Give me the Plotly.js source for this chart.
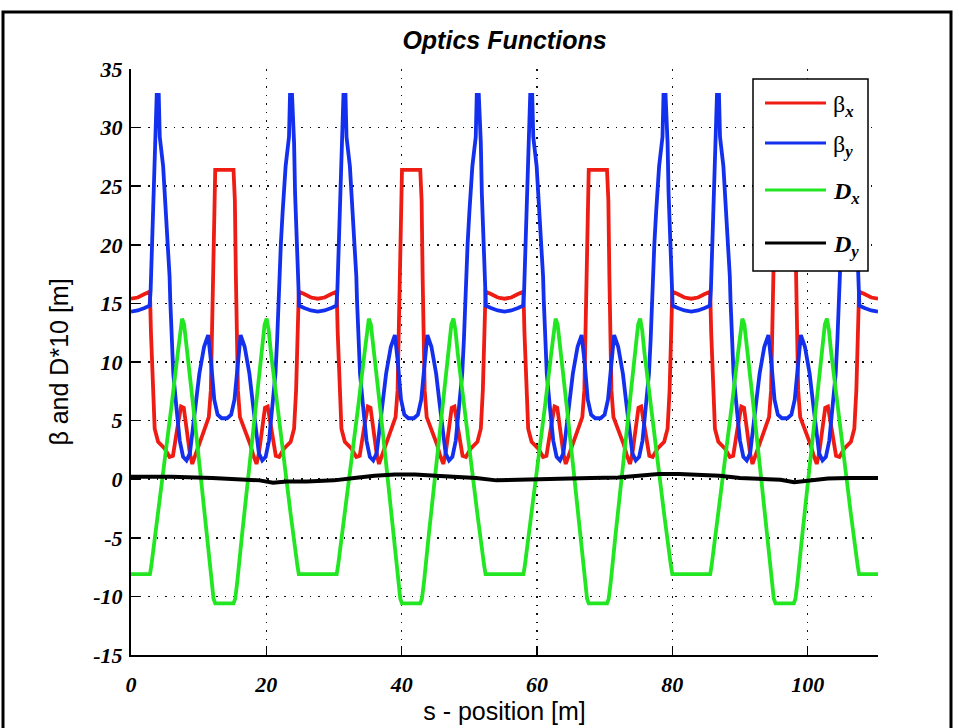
<!DOCTYPE html>
<html><head><meta charset="utf-8">
<script src="https://cdn.plot.ly/plotly-3.0.1.min.js"></script>
<style>html,body{margin:0;padding:0;background:#fff;} #chart{width:959px;height:728px;}</style>
</head><body><div id="chart"></div>
<script>
// ---- data ----
const seriesNames = ['β<sub>x</sub>', 'β<sub>y</sub>', 'D<sub>x</sub>', 'D<sub>y</sub>'];

const betaXS = [
0,1,2,2.8,2.95,3.2,3.5,4,5,5.7,6.2,6.8,7.4,7.8,8.3,8.7,9.05,9.5,10,10.7,11.5,11.8,11.95,12.1,12.25,12.45,
15.15,15.35,15.5,15.65,15.8,16.1,16.9,17.6,18.1,18.55,18.9,19.3,19.8,20.2,20.8,21.4,21.9,22.6,23.6,24.1,24.4,24.65,24.8,25.6,26.6,
27.6,28.6,29.6,30.4,30.55,30.8,31.1,31.6,32.6,33.3,33.8,34.4,35.0,35.4,35.9,36.3,36.65,37.1,37.6,38.3,39.1,39.4,39.55,39.7,39.85,40.05,
42.75,42.95,43.1,43.25,43.4,43.7,44.5,45.2,45.7,46.15,46.5,46.9,47.4,47.8,48.4,49.0,49.5,50.2,51.2,51.7,52.0,52.25,52.4,53.2,54.2,
55.2,56.2,57.2,58.0,58.15,58.4,58.7,59.2,60.2,60.9,61.4,62.0,62.6,63.0,63.5,63.9,64.25,64.7,65.2,65.9,66.7,67.0,67.15,67.3,67.45,67.65,
70.35,70.55,70.7,70.85,71.0,71.3,72.1,72.8,73.3,73.75,74.1,74.5,75.0,75.4,76.0,76.6,77.1,77.8,78.8,79.3,79.6,79.85,80.0,80.8,81.8,
82.8,83.8,84.8,85.6,85.75,86.0,86.3,86.8,87.8,88.5,89.0,89.6,90.2,90.6,91.1,91.5,91.85,92.3,92.8,93.5,94.3,94.6,94.75,94.9,95.05,95.25,
97.95,98.15,98.3,98.45,98.6,98.9,99.7,100.4,100.9,101.35,101.7,102.1,102.6,103.0,103.6,104.2,104.7,105.4,106.4,106.9,107.2,107.45,107.6,108.4,109.4,
110.4];
const betaXV = [
15.4,15.5,15.8,16.0,12.5,7.6,4.3,3.2,2.6,1.9,2.0,4.2,6.2,6.1,3.9,2.2,1.3,2.0,3.0,4.1,5.3,7.6,13.0,17.3,23.8,26.4,
26.4,23.8,17.3,13.0,7.6,5.3,4.1,3.0,2.0,1.3,2.2,3.9,6.1,6.2,4.2,2.0,1.9,2.6,3.2,4.3,7.6,12.5,16.0,15.8,15.5,
15.4,15.5,15.8,16.0,12.5,7.6,4.3,3.2,2.6,1.9,2.0,4.2,6.2,6.1,3.9,2.2,1.3,2.0,3.0,4.1,5.3,7.6,13.0,17.3,23.8,26.4,
26.4,23.8,17.3,13.0,7.6,5.3,4.1,3.0,2.0,1.3,2.2,3.9,6.1,6.2,4.2,2.0,1.9,2.6,3.2,4.3,7.6,12.5,16.0,15.8,15.5,
15.4,15.5,15.8,16.0,12.5,7.6,4.3,3.2,2.6,1.9,2.0,4.2,6.2,6.1,3.9,2.2,1.3,2.0,3.0,4.1,5.3,7.6,13.0,17.3,23.8,26.4,
26.4,23.8,17.3,13.0,7.6,5.3,4.1,3.0,2.0,1.3,2.2,3.9,6.1,6.2,4.2,2.0,1.9,2.6,3.2,4.3,7.6,12.5,16.0,15.8,15.5,
15.4,15.5,15.8,16.0,12.5,7.6,4.3,3.2,2.6,1.9,2.0,4.2,6.2,6.1,3.9,2.2,1.3,2.0,3.0,4.1,5.3,7.6,13.0,17.3,23.8,26.4,
26.4,23.8,17.3,13.0,7.6,5.3,4.1,3.0,2.0,1.3,2.2,3.9,6.1,6.2,4.2,2.0,1.9,2.6,3.2,4.3,7.6,12.5,16.0,15.8,15.5,
15.4];

const betaYS = [
0,1,2,2.75,2.9,3.1,3.35,3.5,3.8,4.1,4.25,4.75,5.2,5.45,5.7,5.8,6.0,6.25,6.7,7.2,7.7,8.2,8.7,9.1,9.6,10.1,10.8,11.4,11.85,12.3,12.8,13.4,
14.2,14.8,15.3,15.75,16.2,16.8,17.5,18.0,18.5,18.9,19.4,19.9,20.4,20.9,21.35,21.6,21.8,21.9,22.15,22.4,22.85,23.35,23.5,23.8,24.1,24.25,24.5,24.7,24.85,25.6,26.6,
27.6,28.6,29.6,30.35,30.5,30.7,30.95,31.1,31.4,31.7,31.85,32.35,32.8,33.05,33.3,33.4,33.6,33.85,34.3,34.8,35.3,35.8,36.3,36.7,37.2,37.7,38.4,39.0,39.45,39.9,40.4,41.0,
41.8,42.4,42.9,43.35,43.8,44.4,45.1,45.6,46.1,46.5,47.0,47.5,48.0,48.5,48.95,49.2,49.4,49.5,49.75,50.0,50.45,50.95,51.1,51.4,51.7,51.85,52.1,52.3,52.45,53.2,54.2,
55.2,56.2,57.2,57.95,58.1,58.3,58.55,58.7,59.0,59.3,59.45,59.95,60.4,60.65,60.9,61.0,61.2,61.45,61.9,62.4,62.9,63.4,63.9,64.3,64.8,65.3,66.0,66.6,67.05,67.5,68.0,68.6,
69.4,70.0,70.5,70.95,71.4,72.0,72.7,73.2,73.7,74.1,74.6,75.1,75.6,76.1,76.55,76.8,77.0,77.1,77.35,77.6,78.05,78.55,78.7,79.0,79.3,79.45,79.7,79.9,80.05,80.8,81.8,
82.8,83.8,84.8,85.55,85.7,85.9,86.15,86.3,86.6,86.9,87.05,87.55,88.0,88.25,88.5,88.6,88.8,89.05,89.5,90.0,90.5,91.0,91.5,91.9,92.4,92.9,93.6,94.2,94.65,95.1,95.6,96.2,
97.0,97.6,98.1,98.55,99.0,99.6,100.3,100.8,101.3,101.7,102.2,102.7,103.2,103.7,104.15,104.4,104.6,104.7,104.95,105.2,105.65,106.15,106.3,106.6,106.9,107.05,107.3,107.5,107.65,108.4,109.4,
110.4];
const betaYV = [
14.3,14.4,14.6,14.8,16.1,20.4,24.4,28.7,32.8,32.8,29.2,26.7,22.7,20.1,17.3,15.3,11.9,9.0,6.2,3.3,1.9,1.6,2.2,4.2,6.5,9.0,11.3,12.3,9.9,6.8,5.5,5.2,
5.2,5.5,6.8,9.9,12.3,11.3,9.0,6.5,4.2,2.2,1.6,1.9,3.3,6.2,9.0,11.9,15.3,17.3,20.1,22.7,26.7,29.2,32.8,32.8,28.7,24.4,20.4,16.1,14.8,14.6,14.4,
14.3,14.4,14.6,14.8,16.1,20.4,24.4,28.7,32.8,32.8,29.2,26.7,22.7,20.1,17.3,15.3,11.9,9.0,6.2,3.3,1.9,1.6,2.2,4.2,6.5,9.0,11.3,12.3,9.9,6.8,5.5,5.2,
5.2,5.5,6.8,9.9,12.3,11.3,9.0,6.5,4.2,2.2,1.6,1.9,3.3,6.2,9.0,11.9,15.3,17.3,20.1,22.7,26.7,29.2,32.8,32.8,28.7,24.4,20.4,16.1,14.8,14.6,14.4,
14.3,14.4,14.6,14.8,16.1,20.4,24.4,28.7,32.8,32.8,29.2,26.7,22.7,20.1,17.3,15.3,11.9,9.0,6.2,3.3,1.9,1.6,2.2,4.2,6.5,9.0,11.3,12.3,9.9,6.8,5.5,5.2,
5.2,5.5,6.8,9.9,12.3,11.3,9.0,6.5,4.2,2.2,1.6,1.9,3.3,6.2,9.0,11.9,15.3,17.3,20.1,22.7,26.7,29.2,32.8,32.8,28.7,24.4,20.4,16.1,14.8,14.6,14.4,
14.3,14.4,14.6,14.8,16.1,20.4,24.4,28.7,32.8,32.8,29.2,26.7,22.7,20.1,17.3,15.3,11.9,9.0,6.2,3.3,1.9,1.6,2.2,4.2,6.5,9.0,11.3,12.3,9.9,6.8,5.5,5.2,
5.2,5.5,6.8,9.9,12.3,11.3,9.0,6.5,4.2,2.2,1.6,1.9,3.3,6.2,9.0,11.9,15.3,17.3,20.1,22.7,26.7,29.2,32.8,32.8,28.7,24.4,20.4,16.1,14.8,14.6,14.4,
14.3];

// dispersion values already multiplied by 10 (as plotted)
const dispXS = [
0,2.8,3.0,4.0,5.0,6.0,6.9,7.25,7.55,7.85,8.2,9.2,10.2,11.2,11.9,12.2,12.45,
15.15,15.4,15.7,16.4,17.4,18.4,19.4,19.75,20.05,20.35,20.7,21.6,22.6,23.6,24.6,24.8,
27.6,30.4,30.6,31.6,32.6,33.6,34.5,34.85,35.15,35.45,35.8,36.8,37.8,38.8,39.5,39.8,40.05,
42.75,43.0,43.3,44.0,45.0,46.0,47.0,47.35,47.65,47.95,48.3,49.2,50.2,51.2,52.2,52.4,
55.2,58.0,58.2,59.2,60.2,61.2,62.1,62.45,62.75,63.05,63.4,64.4,65.4,66.4,67.1,67.4,67.65,
70.35,70.6,70.9,71.6,72.6,73.6,74.6,74.95,75.25,75.55,75.9,76.8,77.8,78.8,79.8,80.0,
82.8,85.6,85.8,86.8,87.8,88.8,89.7,90.05,90.35,90.65,91.0,92.0,93.0,94.0,94.7,95.0,95.25,
97.95,98.2,98.5,99.2,100.2,101.2,102.2,102.55,102.85,103.15,103.5,104.4,105.4,106.4,107.4,107.6,
110.4];
const dispXV = [
-8.1,-8.1,-7.4,-3.0,1.6,6.3,10.7,12.7,13.7,13.2,11.5,6.2,0.8,-4.8,-8.8,-10.2,-10.6,
-10.6,-10.2,-8.8,-4.8,0.8,6.2,11.5,13.2,13.7,12.7,10.7,6.3,1.6,-3.0,-7.4,-8.1,
-8.1,-8.1,-7.4,-3.0,1.6,6.3,10.7,12.7,13.7,13.2,11.5,6.2,0.8,-4.8,-8.8,-10.2,-10.6,
-10.6,-10.2,-8.8,-4.8,0.8,6.2,11.5,13.2,13.7,12.7,10.7,6.3,1.6,-3.0,-7.4,-8.1,
-8.1,-8.1,-7.4,-3.0,1.6,6.3,10.7,12.7,13.7,13.2,11.5,6.2,0.8,-4.8,-8.8,-10.2,-10.6,
-10.6,-10.2,-8.8,-4.8,0.8,6.2,11.5,13.2,13.7,12.7,10.7,6.3,1.6,-3.0,-7.4,-8.1,
-8.1,-8.1,-7.4,-3.0,1.6,6.3,10.7,12.7,13.7,13.2,11.5,6.2,0.8,-4.8,-8.8,-10.2,-10.6,
-10.6,-10.2,-8.8,-4.8,0.8,6.2,11.5,13.2,13.7,12.7,10.7,6.3,1.6,-3.0,-7.4,-8.1,
-8.1];

const dispYS = [0,6,12,16,19,21,23,26,30,33,36,39,42,45,48,51,54,57,60,64,68,72,75,78,81,84,87,90,93,96,98,100,103,106,110.4];
const dispYV = [0.2,0.2,0.1,0.0,-0.1,-0.3,-0.2,-0.2,-0.1,0.1,0.3,0.4,0.4,0.3,0.2,0.1,-0.1,-0.05,0.05,0.05,0.1,0.15,0.3,0.45,0.45,0.4,0.3,0.1,0.0,-0.05,-0.25,-0.1,0.05,0.1,0.1];

const xTickVals = [0,20,40,60,80,100];
const xTickText = ['0','20','40','60','80','100'];
const yTickVals = [-15,-10,-5,0,5,10,15,20,25,30,35];
const yTickText = ['-15','-10','-5','0','5','10','15','20','25','30','35'];

// ---- styling ----
const COLORS = ['#ee1c12', '#1230ee', '#22e622', '#000000'];
const LW = 3.8;

const traces = [
  {x: betaXS, y: betaXV, name: seriesNames[0], mode: 'lines', line: {color: COLORS[0], width: LW}},
  {x: betaYS, y: betaYV, name: seriesNames[1], mode: 'lines', line: {color: COLORS[1], width: LW}},
  {x: dispXS, y: dispXV, name: seriesNames[2], mode: 'lines', line: {color: COLORS[2], width: LW}},
  {x: dispYS, y: dispYV, name: seriesNames[3], mode: 'lines', line: {color: COLORS[3], width: 4}}
];

// plot area in pixels
const L = 131, R = 878, T = 69, B = 655;
const px = x => (x - L) / (R - L);
const py = y => (B - y) / (B - T);

const tickFont = {family: 'Liberation Serif, Times New Roman, serif', size: 22, color: '#000', weight: 'bold', style: 'italic'};
const legFont = {family: 'Liberation Serif, Times New Roman, serif', size: 24, color: '#000'};

const legRows = [103, 143, 190, 243];
const legText = [
  'β<sub><b><i>x</i></b></sub>',
  'β<sub><b><i>y</i></b></sub>',
  '<b><i>D</i></b><sub><b><i>x</i></b></sub>',
  '<b><i>D</i></b><sub><b><i>y</i></b></sub>'
];

const shapes = [
  // figure frame
  {type: 'rect', xref: 'paper', yref: 'paper', x0: px(3), x1: px(951), y0: py(745), y1: py(12),
   line: {color: '#000', width: 3}, fillcolor: 'rgba(0,0,0,0)', layer: 'below'},
  // legend box
  {type: 'rect', xref: 'paper', yref: 'paper', x0: px(753), x1: px(868), y0: py(271), y1: py(79),
   line: {color: '#000', width: 1.5}, fillcolor: '#fff', layer: 'above'}
];
const annotations = [];
legRows.forEach((yy, i) => {
  shapes.push({type: 'line', xref: 'paper', yref: 'paper', x0: px(765), x1: px(826), y0: py(yy), y1: py(yy),
    line: {color: COLORS[i], width: 3}, layer: 'above'});
  annotations.push({xref: 'paper', yref: 'paper', x: px(831), y: py(yy + 3), xanchor: 'left', yanchor: 'middle',
    text: legText[i], showarrow: false, font: legFont});
});

const layout = {
  width: 959, height: 728,
  margin: {l: L, r: 959 - R, t: T, b: 728 - B, pad: 0},
  paper_bgcolor: '#fff', plot_bgcolor: '#fff',
  showlegend: false,
  title: {text: '<b><i>Optics Functions</i></b>', font: {family: 'Liberation Sans, Arial, sans-serif', size: 25, color: '#000'},
          x: 0.5, xref: 'paper', xanchor: 'center', y: 1 - 40 / 728, yref: 'container', yanchor: 'middle'},
  xaxis: {range: [0, 110.4], tickmode: 'array', tickvals: xTickVals, ticktext: xTickText,
          ticks: 'inside', ticklen: 9, tickwidth: 1.5, tickcolor: '#000',
          showline: true, linecolor: '#000', linewidth: 2,
          showgrid: true, gridcolor: '#111', gridwidth: 1.5, griddash: '1.5px,7px', zeroline: false,
          tickfont: tickFont, ticklabelstandoff: 9,
          title: {text: 's - position [m]', font: {family: 'Liberation Sans, Arial, sans-serif', size: 25, color: '#000'}, standoff: 3},
          automargin: false, fixedrange: true},
  yaxis: {range: [-15, 35], tickmode: 'array', tickvals: yTickVals, ticktext: yTickText,
          ticks: 'inside', ticklen: 9, tickwidth: 1.5, tickcolor: '#000',
          showline: true, linecolor: '#000', linewidth: 2,
          showgrid: true, gridcolor: '#111', gridwidth: 1.5, griddash: '1.5px,7px', zeroline: false,
          tickfont: tickFont, ticklabelstandoff: 2,
          title: {text: 'β and D*10 [m]', font: {family: 'Liberation Sans, Arial, sans-serif', size: 25, color: '#000'}, standoff: 18},
          automargin: false, fixedrange: true},
  shapes: shapes,
  annotations: annotations
};

Plotly.newPlot('chart', traces, layout, {displayModeBar: false, staticPlot: true});
</script>
</body></html>
